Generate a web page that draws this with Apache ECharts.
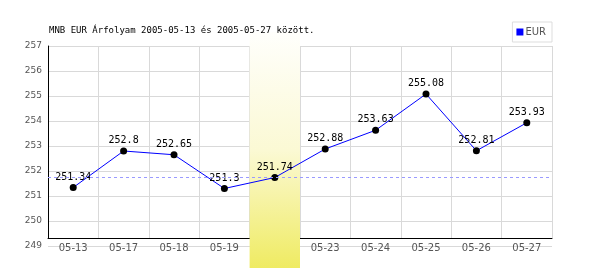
<!DOCTYPE html>
<html><head><meta charset="utf-8">
<script src="https://cdn.jsdelivr.net/npm/echarts@6/dist/echarts.min.js"></script>
<style>html,body{margin:0;padding:0;background:#fff}#c{width:600px;height:270px}</style>
</head><body><div id="c"></div>
<script>
const categories = ['05-13','05-17','05-18','05-19','05-20','05-23','05-24','05-25','05-26','05-27'];
const eurValues = [251.34, 252.8, 252.65, 251.3, 251.74, 252.88, 253.63, 255.08, 252.81, 253.93];
const referenceValue = 251.74;
const highlightCategory = '05-20';
const yTicks = [249, 250, 251, 252, 253, 254, 255, 256, 257];
const titleText = 'MNB EUR Árfolyam 2005-05-13 és 2005-05-27 között.';

const chart = echarts.init(document.getElementById('c'), null, {renderer: 'canvas'});
const bandData = categories.map(c => c === highlightCategory ? 1 : null);
const gridCol = '#d9d9d9';

chart.setOption({
  animation: false,
  backgroundColor: '#fff',
  title: {
    text: titleText, left: 44, top: 21,
    textStyle: {fontFamily: 'DejaVu Sans Mono', fontSize: 9, fontWeight: 'normal', color: '#000'}
  },
  legend: {
    data: ['EUR'], right: 48, top: 22, orient: 'vertical',
    icon: 'rect', itemWidth: 7, itemHeight: 7, itemGap: 2,
    borderColor: '#ddd', borderWidth: 1, padding: [5, 6, 5, 4],
    textStyle: {fontFamily: 'DejaVu Sans', fontSize: 10, color: '#555', padding: [0,0,0,-3]}
  },
  grid: [
    {left: 48, right: 48, top: 46, bottom: 24},
    {left: 48, right: 48, top: 46, bottom: 32},
    {left: 48, right: 48, top: 32, bottom: 2}
  ],
  xAxis: [
    {gridIndex: 0, type: 'category', data: categories, boundaryGap: true, show: false},
    {gridIndex: 1, type: 'category', data: categories, boundaryGap: true,
     axisLine: {lineStyle: {color: '#000', width: 1}}, axisTick: {show: false},
     axisLabel: {margin: 5, fontFamily: 'DejaVu Sans', fontSize: 10, color: '#555'},
     splitLine: {show: true, lineStyle: {color: gridCol, width: 1}}},
    {gridIndex: 2, type: 'category', data: categories, boundaryGap: true, show: false}
  ],
  yAxis: [
    {gridIndex: 0, type: 'value', min: yTicks[0], max: yTicks[yTicks.length-1], interval: 1,
     axisLine: {show: false}, axisTick: {show: false},
     axisLabel: {margin: 6, fontFamily: 'DejaVu Sans', fontSize: 9, color: '#555'},
     splitLine: {show: true, lineStyle: {color: gridCol, width: 1}}},
    {gridIndex: 1, type: 'value', min: 0, max: 1,
     axisLine: {show: true, lineStyle: {color: '#000', width: 1}}, axisTick: {show: false},
     axisLabel: {show: false}, splitLine: {show: false}},
    {gridIndex: 2, type: 'value', min: 0, max: 1, show: false}
  ],
  series: [
    {
      name: 'ref', type: 'line', xAxisIndex: 0, yAxisIndex: 0, data: [], z: 1,
      markLine: {
        silent: true, symbol: 'none', label: {show: false},
        lineStyle: {color: '#9a9aff', type: [3, 3], width: 1},
        data: [{yAxis: referenceValue}]
      }
    },
    {
      name: 'band', type: 'bar', xAxisIndex: 2, yAxisIndex: 2, data: bandData,
      barWidth: '100%', z: 2, silent: true,
      itemStyle: {color: {type: 'linear', x: 0, y: 0, x2: 0, y2: 1,
        colorStops: [{offset: 0, color: '#fffffc'}, {offset: 0.5, color: '#fbf9d4'}, {offset: 1, color: '#efeb62'}]}}
    },
    {
      name: 'EUR', type: 'line', xAxisIndex: 0, yAxisIndex: 0, data: eurValues, z: 3,
      lineStyle: {color: '#0000ff', width: 1},
      itemStyle: {color: '#0000ff'},
      symbol: 'none', showSymbol: false,
      emphasis: {disabled: true}
    },
    {
      name: 'pts', type: 'scatter', xAxisIndex: 0, yAxisIndex: 0, data: eurValues, z: 4,
      symbol: 'circle', symbolSize: 7, itemStyle: {color: '#000', opacity: 1}, silent: true,
      label: {show: true, position: 'top', distance: 2,
        fontFamily: 'DejaVu Sans Mono', fontSize: 10, color: '#000', opacity: 1}
    }
  ]
});
</script></body></html>
